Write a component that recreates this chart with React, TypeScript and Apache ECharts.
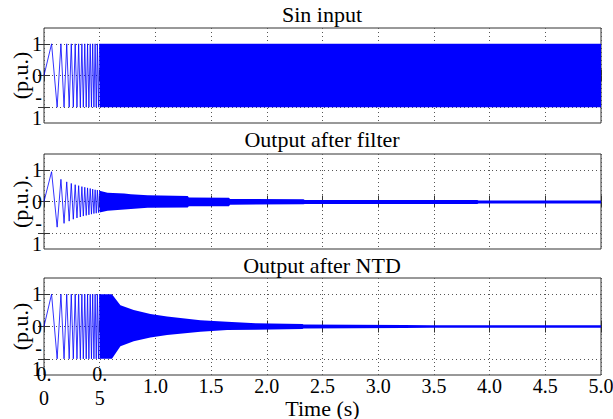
import React, { useEffect, useRef } from 'react';
import * as echarts from 'echarts';

// ---- data ----
// times (s) of the visible extrema at the start of the chirp (shared by the three panels)
const extremaT = [0, 0.068, 0.118, 0.152, 0.18, 0.204, 0.226, 0.245, 0.263, 0.28, 0.296, 0.311, 0.326, 0.34, 0.353, 0.366, 0.379, 0.391, 0.403, 0.415, 0.426, 0.437, 0.448, 0.459, 0.469, 0.479, 0.489, 0.499];
const sinInput = [0, 1, -1, 1, -1, 1, -1, 1, -1, 1, -1, 1, -1, 1, -1, 1, -1, 1, -1, 1, -1, 1, -1, 1, -1, 1, -1, 1];
const filterOut = [0, 0.94, -0.81, 0.7, -0.69, 0.62, -0.62, 0.57, -0.56, 0.53, -0.52, 0.5, -0.49, 0.47, -0.46, 0.45, -0.44, 0.43, -0.42, 0.41, -0.4, 0.39, -0.38, 0.37, -0.37, 0.36, -0.35, 0.34];
const ntdOut = [0, 1, -1, 1, -1, 1, -1, 1, -1, 1, -1, 1, -1, 1, -1, 1, -1, 1, -1, 1, -1, 1, -1, 1, -1, 1, -1, 1];

// envelopes of the dense (unresolvable) part of each signal
const sinBandT = [0.499, 5.0];
const sinBandUp = [1, 1];
const sinBandLo = [-1, -1];

const filterBandT = [0.499, 0.57, 0.72, 0.78, 0.93, 1.29, 1.3, 1.66, 1.67, 2.33, 2.34, 3.89, 3.9, 5.0];
const filterBandUp = [0.34, 0.28, 0.25, 0.23, 0.2, 0.17, 0.13, 0.12, 0.08, 0.07, 0.05, 0.05, 0.035, 0.035];
const filterBandLo = [-0.35, -0.29, -0.25, -0.24, -0.2, -0.19, -0.15, -0.15, -0.1, -0.09, -0.08, -0.08, -0.06, -0.06];

const ntdBandT = [0.499, 0.61, 0.686, 0.805, 0.955, 1.105, 1.404, 1.644, 1.9, 2.32, 2.33, 3.23, 3.47, 5.0];
const ntdBandUp = [1, 1, 0.66, 0.51, 0.39, 0.31, 0.19, 0.15, 0.1, 0.08, 0.06, 0.045, 0.035, 0.035];
const ntdBandLo = [-1, -1, -0.61, -0.46, -0.34, -0.26, -0.16, -0.11, -0.1, -0.08, -0.06, -0.045, -0.04, -0.04];

const xTickLabels = ['0.\n0', '0.\n5', '1.0', '1.5', '2.0', '2.5', '3.0', '3.5', '4.0', '4.5', '5.0'];
const yTickValues = [-1, 0, 1];
const yTickLabels = ['-\n1', '0', '1'];
const titles = ['Sin input', 'Output after filter', 'Output after NTD'];
const yNames = ['(p.u.)', '(p.u.).', '(p.u.)'];
const xName = 'Time (s)';

const FONT = 'Liberation Serif';
const BLUE = '#0000ff';
const GRID_TOPS = [28, 154, 278];
const GRID_HEIGHTS = [95, 95, 97];
const TITLE_TOPS = [3, 128, 254];

function bandSeries(idx: number, T: number[], up: number[], lo: number[]) {
  return {
    type: 'custom',
    xAxisIndex: idx,
    yAxisIndex: idx,
    silent: true,
    z: 3,
    data: T.map((t, i) => [t, up[i], lo[i]]),
    encode: { x: 0, y: [1, 2] },
    renderItem: (params: any, api: any) => {
      if (params.dataIndex !== 0) return null;
      const pts: number[][] = [];
      for (let i = 0; i < T.length; i++) pts.push(api.coord([T[i], up[i]]));
      for (let i = T.length - 1; i >= 0; i--) pts.push(api.coord([T[i], lo[i]]));
      return { type: 'polygon', shape: { points: pts }, style: { fill: BLUE } };
    },
  };
}

function waveSeries(idx: number, vals: number[]) {
  return {
    type: 'line',
    xAxisIndex: idx,
    yAxisIndex: idx,
    silent: true,
    z: 3,
    showSymbol: false,
    data: extremaT.map((t, i) => [t, vals[i]]),
    lineStyle: { color: BLUE, width: 0.8 },
  };
}

export default function App() {
  const ref = useRef<HTMLDivElement>(null);
  useEffect(() => {
    if (!ref.current) return;
    const chart = echarts.init(ref.current, undefined, { renderer: 'svg' });
    const idxs = [0, 1, 2];
    const grid = idxs.map((i) => ({
      left: 44,
      width: 557,
      top: GRID_TOPS[i],
      height: GRID_HEIGHTS[i],
      show: true,
      borderColor: '#333',
      borderWidth: 1,
      backgroundColor: 'transparent',
      containLabel: false,
      outerBoundsMode: 'none',
    }));
    const xBottom = idxs.map((i) => ({
      type: 'value',
      gridIndex: i,
      position: 'bottom',
      min: 0,
      max: 5,
      interval: 0.5,
      axisLine: { show: false },
      axisTick: { show: true, inside: true, length: 6, lineStyle: { color: '#333' } },
      splitLine: { show: true, lineStyle: { color: '#555', type: [1, 3], width: 1 } },
      axisLabel: {
        show: i === 2,
        fontFamily: FONT,
        fontSize: 20,
        color: '#000',
        lineHeight: 24,
        verticalAlign: 'middle',
        margin: 10.5,
        formatter: (v: number) => xTickLabels[Math.round(v / 0.5)] ?? '',
      },
      name: i === 2 ? xName : '',
      nameLocation: 'middle',
      nameGap: 22,
      nameMoveOverlap: false,
      nameTextStyle: { fontFamily: FONT, fontSize: 22, color: '#000', verticalAlign: 'top' },
    }));
    const xTop = idxs.map((i) => ({
      type: 'value',
      gridIndex: i,
      position: 'top',
      min: 0,
      max: 5,
      interval: 0.5,
      axisLine: { show: false },
      axisTick: { show: true, inside: true, length: 6, lineStyle: { color: '#333' } },
      splitLine: { show: false },
      axisLabel: { show: false },
    }));
    const yLeft = idxs.map((i) => ({
      type: 'value',
      gridIndex: i,
      position: 'left',
      min: -1.5,
      max: 1.5,
      axisLine: { show: false },
      axisTick: { show: true, inside: true, length: 6, lineStyle: { color: '#333' }, customValues: yTickValues },
      splitLine: { show: true, lineStyle: { color: '#555', type: [1, 3], width: 1 } },
      axisLabel: {
        customValues: yTickValues,
        fontFamily: FONT,
        fontSize: 20,
        color: '#000',
        lineHeight: 21,
        margin: 2,
        formatter: (v: number) => yTickLabels[yTickValues.indexOf(Math.round(v))] ?? '',
      },
      name: yNames[i],
      nameLocation: 'middle',
      nameGap: 13,
      nameRotate: 90,
      nameMoveOverlap: false,
      nameTextStyle: { fontFamily: FONT, fontSize: 22, color: '#000' },
    }));
    const yRight = idxs.map((i) => ({
      type: 'value',
      gridIndex: i,
      position: 'right',
      min: -1.5,
      max: 1.5,
      axisLine: { show: false },
      axisTick: { show: true, inside: true, length: 6, lineStyle: { color: '#333' }, customValues: yTickValues },
      splitLine: { show: false },
      axisLabel: { show: false },
    }));
    const series: any[] = [
      waveSeries(0, sinInput),
      bandSeries(0, sinBandT, sinBandUp, sinBandLo),
      waveSeries(1, filterOut),
      bandSeries(1, filterBandT, filterBandUp, filterBandLo),
      waveSeries(2, ntdOut),
      bandSeries(2, ntdBandT, ntdBandUp, ntdBandLo),
    ];
    chart.setOption({
      animation: false,
      backgroundColor: '#fff',
      textStyle: { fontFamily: FONT },
      title: idxs.map((i) => ({
        text: titles[i],
        left: 322,
        textAlign: 'center',
        top: TITLE_TOPS[i],
        padding: 0,
        textStyle: { fontFamily: FONT, fontSize: 22, fontWeight: 'normal', color: '#000' },
      })),
      grid,
      xAxis: [...xBottom, ...xTop],
      yAxis: [...yLeft, ...yRight],
      series,
    });
    return () => chart.dispose();
  }, []);
  return <div ref={ref} style={{ position: 'absolute', left: 0, top: 0, width: 613, height: 419 }} />;
}
